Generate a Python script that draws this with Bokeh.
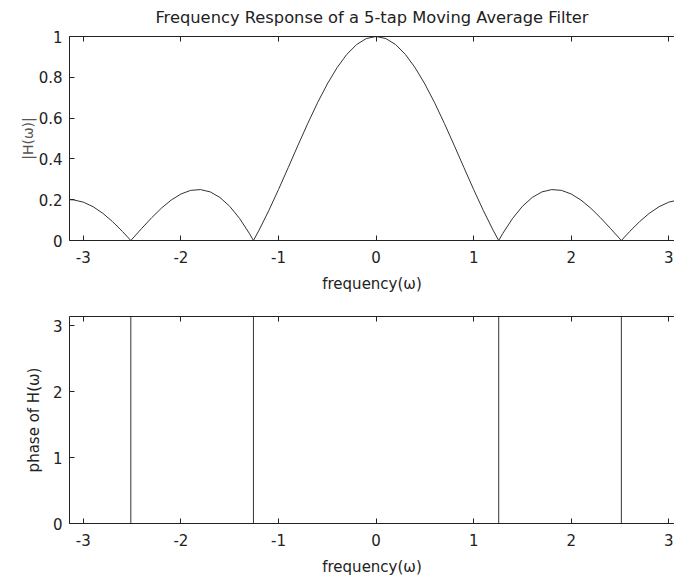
from bokeh.plotting import figure
from bokeh.layouts import column
from bokeh.models import LinearAxis, FixedTicker, Range1d, CustomLabelingPolicy
from bokeh.embed import file_html
from bokeh.resources import INLINE

# ---- data ----
omega = [-3.1416, -3.1, -3.0, -2.9, -2.8, -2.7, -2.6, -2.5133, -2.5, -2.4, -2.3, -2.2,
         -2.1, -2.0, -1.9, -1.8, -1.7, -1.6, -1.5, -1.4, -1.3, -1.2566, -1.2, -1.1,
         -1.0, -0.9, -0.8, -0.7, -0.6, -0.5, -0.4, -0.3, -0.2, -0.1, 0.0,
         0.1, 0.2, 0.3, 0.4, 0.5, 0.6, 0.7, 0.8, 0.9, 1.0, 1.1, 1.2, 1.2566, 1.3,
         1.4, 1.5, 1.6, 1.7, 1.8, 1.9, 2.0, 2.1, 2.2, 2.3, 2.4, 2.5, 2.5133, 2.6,
         2.7, 2.8, 2.9, 3.0, 3.1, 3.1416]
magnitude = [0.2000, 0.1990, 0.1881, 0.1658, 0.1333, 0.0923, 0.0447, 0.0, 0.0070, 0.0600, 0.1114, 0.1583,
             0.1980, 0.2279, 0.2457, 0.2496, 0.2383, 0.2110, 0.1677, 0.1089, 0.0358, 0.0, 0.0500, 0.1460,
             0.2497, 0.3578, 0.4670, 0.5739, 0.6751, 0.7672, 0.8471, 0.9123, 0.9605, 0.9900, 1.0000,
             0.9900, 0.9605, 0.9123, 0.8471, 0.7672, 0.6751, 0.5739, 0.4670, 0.3578, 0.2497, 0.1460, 0.0500, 0.0, 0.0358,
             0.1089, 0.1677, 0.2110, 0.2383, 0.2496, 0.2457, 0.2279, 0.1980, 0.1583, 0.1114, 0.0600, 0.0070, 0.0, 0.0447,
             0.0923, 0.1333, 0.1658, 0.1881, 0.1990, 0.2000]

phase_omega = [-3.1416, -2.5133, -2.5133, -1.2566, -1.2566, 1.2566, 1.2566, 2.5133, 2.5133, 3.1416]
phase_value = [0.0, 0.0, 3.1416, 3.1416, 0.0, 0.0, 3.1416, 3.1416, 0.0, 0.0]

x_ticks = [-3, -2, -1, 0, 1, 2, 3]
x_tick_labels = ["-3", "-2", "-1", "0", "1", "2", "3"]
mag_ticks = [0, 0.2, 0.4, 0.6, 0.8, 1]
mag_tick_labels = ["0", "0.2", "0.4", "0.6", "0.8", "1"]
phase_ticks = [0, 1, 2, 3]
phase_tick_labels = ["0", "1", "2", "3"]

title_text = "Frequency Response of a 5-tap Moving Average Filter"
x_label = "frequency(\u03c9)"
mag_label = "|H(\u03c9)|"
phase_label = "phase of H(\u03c9)"

FONT = "DejaVu Sans"
FS = "15px"
INK = "#222222"
LINE = "#333333"

X0, X1 = -3.1416, 3.058

NO_LABELS = """
for (const i of indices) {
    indices.unset(i)
}
return indices
"""


def style_axis(ax, ticks, labels=None):
    ax.ticker = FixedTicker(ticks=ticks)
    ax.minor_tick_line_color = None
    ax.major_tick_in = 5
    ax.major_tick_out = 0
    ax.axis_line_color = INK
    ax.major_tick_line_color = INK
    ax.major_label_text_font = FONT
    ax.major_label_text_font_size = FS
    ax.major_label_text_color = INK
    ax.major_label_standoff = 7
    ax.axis_label_text_font = FONT
    ax.axis_label_text_font_size = FS
    ax.axis_label_text_font_style = "normal"
    ax.axis_label_text_color = INK
    if labels is not None:
        ax.major_label_overrides = {t: s for t, s in zip(ticks, labels)}
    else:
        ax.major_label_policy = CustomLabelingPolicy(code=NO_LABELS)
        ax.major_label_standoff = 0
        ax.major_label_text_font_size = "1px"


def make_fig(height, top, bottom, y_range, yticks, ylabels):
    p = figure(width=674, height=height, output_backend="svg", toolbar_location=None,
               x_range=Range1d(X0, X1), y_range=y_range,
               min_border_left=69, min_border_right=0,
               min_border_top=top, min_border_bottom=bottom)
    p.outline_line_color = None
    p.xgrid.visible = False
    p.ygrid.visible = False
    p.background_fill_color = "white"
    p.border_fill_color = "white"
    bottom_ax = p.below[0]
    left_ax = p.left[0]
    style_axis(bottom_ax, x_ticks, x_tick_labels)
    bottom_ax.major_label_standoff = 10
    bottom_ax.axis_label = x_label
    bottom_ax.axis_label_standoff = 9
    style_axis(left_ax, yticks, ylabels)
    top_ax = LinearAxis()
    style_axis(top_ax, x_ticks, None)
    p.add_layout(top_ax, "above")
    return p, left_ax


p1, left1 = make_fig(300, 36, 60, Range1d(0, 1), mag_ticks, mag_tick_labels)
left1.axis_label = mag_label
left1.axis_label_standoff = 0
left1.axis_label_text_font_size = "14px"
left1.axis_label_text_color = "#555555"
p1.title.text = title_text
p1.title.align = "center"
p1.title.text_font = FONT
p1.title.text_font_size = "16.3px"
p1.title.text_font_style = "normal"
p1.title.text_color = INK
p1.title.standoff = 11
p1.line(omega, magnitude, line_color=LINE, line_width=1)

p2, left2 = make_fig(280, 16, 57, Range1d(0, 3.1416), phase_ticks, phase_tick_labels)
left2.axis_label = phase_label
left2.axis_label_standoff = 7
p2.line(phase_omega, phase_value, line_color=LINE, line_width=1)

layout = column(p1, p2, spacing=0)
open("out.html", "w").write(file_html(layout, INLINE))
